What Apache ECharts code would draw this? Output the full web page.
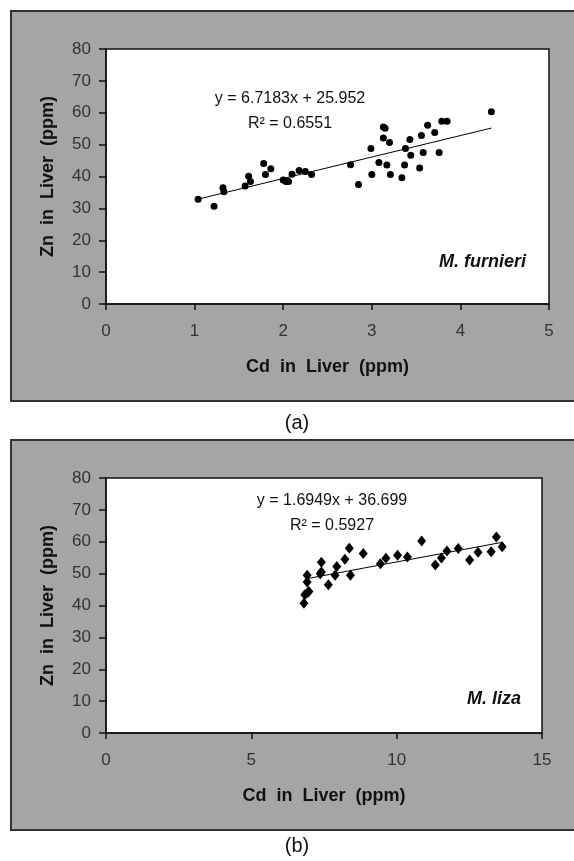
<!DOCTYPE html>
<html>
<head>
<meta charset="utf-8">
<script src="https://cdn.jsdelivr.net/npm/echarts@6/dist/echarts.min.js"></script>
<style>
  html, body { margin: 0; padding: 0; background: #fff; }
  .wrap { position: relative; width: 574px; height: 861px; }
  .panel {
    position: absolute; left: 10px; width: 570px; height: 392px;
    background: #a5a5a5; border: 2px solid #333; box-sizing: border-box;
  }
  #chart { position: absolute; left: 0; top: 0; width: 574px; height: 861px; }
</style>
</head>
<body>
<div class="wrap">
  <div class="panel" style="top:10px"></div>
  <div class="panel" style="top:439px"></div>
  <div id="chart"></div>
</div>
<script>
// M. furnieri : Cd (x) vs Zn (y) in liver, ppm
var cdA = [1.04, 1.22, 1.32, 1.33, 1.57, 1.61, 1.63, 1.78, 1.80, 1.86, 2.00, 2.03, 2.06, 2.10, 2.18, 2.25, 2.32,
           2.76, 2.85, 2.99, 3.00, 3.08, 3.13, 3.15, 3.13, 3.17, 3.20, 3.21, 3.34, 3.37, 3.38, 3.43, 3.44,
           3.54, 3.56, 3.58, 3.63, 3.71, 3.76, 3.79, 3.85, 4.35]
var znA = [32.9, 30.7, 36.5, 35.2, 37.0, 40.1, 38.4, 44.1, 40.6, 42.4, 38.9, 38.4, 38.4, 40.7, 41.9, 41.6, 40.6,
           43.7, 37.5, 48.8, 40.6, 44.4, 55.5, 55.1, 52.1, 43.6, 50.7, 40.6, 39.6, 43.6, 48.8, 51.6, 46.7,
           42.7, 52.9, 47.5, 56.1, 53.8, 47.5, 57.3, 57.3, 60.3]
// M. liza
var cdB = [6.81, 6.84, 6.94, 6.98, 6.92, 6.92, 7.37, 7.41, 7.41, 7.65, 7.88, 7.94, 8.22, 8.37, 8.41, 8.85,
           9.44, 9.63, 10.03, 10.37, 10.86, 11.33, 11.54, 11.73, 12.12, 12.51, 12.80, 13.25, 13.43, 13.63]
var znB = [40.7, 43.4, 44.1, 44.4, 47.4, 49.5, 50.0, 50.5, 53.6, 46.5, 49.5, 52.2, 54.5, 58.0, 49.5, 56.3,
           53.1, 54.8, 55.8, 55.2, 60.2, 52.7, 54.9, 57.1, 57.9, 54.3, 56.7, 56.9, 61.5, 58.4]
// linear trend line end points
var trendA = [[1.04, 32.9], [4.35, 55.2]]
var trendB = [[6.90, 48.4], [13.62, 59.8]]
var eqA = ['y = 6.7183x + 25.952', 'R² = 0.6551']
var eqB = ['y = 1.6949x + 36.699', 'R² = 0.5927']

var font = "'Liberation Sans', Arial, sans-serif"
var inkColor = '#111'

function pairs(xs, ys) {
    var out = []
    xs.forEach(function (x, i) { out.push([x, ys[i]]) })
    return out
}

function xAxisOf(idx, max, interval) {
    return {
        gridIndex: idx, type: 'value', min: 0, max: max, interval: interval,
        name: 'Cd  in  Liver  (ppm)', nameLocation: 'middle', nameGap: 54,
        nameTextStyle: { fontFamily: font, fontWeight: 'bold', fontSize: 18, color: inkColor },
        axisLine: { onZero: false, lineStyle: { color: '#111', width: 1.5 } },
        axisTick: { show: true, length: 6, lineStyle: { color: '#111', width: 1.5 } },
        axisLabel: { margin: 19, fontFamily: font, fontSize: 17, color: '#333' },
        splitLine: { show: false }
    }
}

function yAxisOf(idx) {
    return {
        gridIndex: idx, type: 'value', min: 0, max: 80, interval: 10,
        name: 'Zn  in  Liver  (ppm)', nameLocation: 'middle', nameGap: 49,
        nameTextStyle: { fontFamily: font, fontWeight: 'bold', fontSize: 18, color: inkColor },
        axisLine: { onZero: false, lineStyle: { color: '#111', width: 1.5 } },
        axisTick: { show: true, length: 7, lineStyle: { color: '#111', width: 1.5 } },
        axisLabel: { margin: 15, fontFamily: font, fontSize: 17, color: '#333' },
        splitLine: { show: false }
    }
}

function textAt(x, y, str, extra) {
    var style = { text: str, fill: '#111', font: '16px ' + font, textAlign: 'center', textVerticalAlign: 'middle' }
    for (var k in extra) style[k] = extra[k]
    return { type: 'text', x: x, y: y, style: style, z: 100 }
}

var option = {
    animation: false,
    backgroundColor: 'transparent',
    grid: [
        { left: 106, top: 49, width: 443, height: 255, show: true, backgroundColor: '#fff', borderColor: '#111', borderWidth: 1.5 },
        { left: 106, top: 478, width: 436, height: 255, show: true, backgroundColor: '#fff', borderColor: '#111', borderWidth: 1.5 }
    ],
    xAxis: [xAxisOf(0, 5, 1), xAxisOf(1, 15, 5)],
    yAxis: [yAxisOf(0), yAxisOf(1)],
    series: [
        {
            type: 'scatter', xAxisIndex: 0, yAxisIndex: 0,
            symbol: 'circle', symbolSize: 7,
            itemStyle: { color: '#000', opacity: 1 },
            data: pairs(cdA, znA)
        },
        {
            type: 'line', xAxisIndex: 0, yAxisIndex: 0,
            symbol: 'none', lineStyle: { color: '#000', width: 1 },
            data: trendA
        },
        {
            type: 'scatter', xAxisIndex: 1, yAxisIndex: 1,
            symbol: 'diamond', symbolSize: [9, 11],
            itemStyle: { color: '#000', opacity: 1 },
            data: pairs(cdB, znB)
        },
        {
            type: 'line', xAxisIndex: 1, yAxisIndex: 1,
            symbol: 'none', lineStyle: { color: '#000', width: 1 },
            data: trendB
        }
    ],
    graphic: [
        textAt(290, 99, eqA[0]),
        textAt(290, 124, eqA[1]),
        textAt(332, 501, eqB[0]),
        textAt(332, 526, eqB[1]),
        textAt(526, 262, 'M. furnieri', { textAlign: 'right', font: 'italic bold 18px ' + font }),
        textAt(521, 699, 'M. liza', { textAlign: 'right', font: 'italic bold 18px ' + font }),
        textAt(297, 423, '(a)', { font: '20px ' + font }),
        textAt(297, 846, '(b)', { font: '20px ' + font })
    ]
}

var myChart = echarts.init(document.getElementById('chart'))
myChart.setOption(option)
</script>
</body>
</html>
